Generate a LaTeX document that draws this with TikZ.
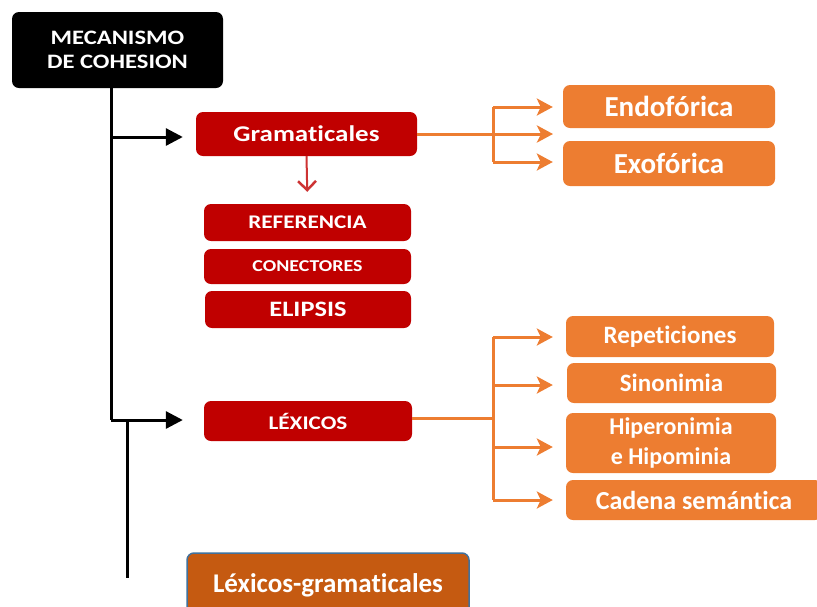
\documentclass[tikz,border=0pt]{standalone}
\usepackage{fontspec}
\setmainfont{Carlito}[Ligatures=NoCommon]
\newfontfamily\widefont{Carlito}[FakeStretch=1.2, Ligatures=NoCommon]
\usetikzlibrary{arrows.meta}
\definecolor{boxred}{RGB}{192,0,0}
\definecolor{boxorange}{RGB}{237,125,49}
\definecolor{boxbrown}{RGB}{197,90,17}
\definecolor{edgeblue}{RGB}{65,113,156}
\tikzset{
	basebox/.style={rounded corners=7pt, text=white, align=center, inner sep=0pt},
	blackbox/.style={basebox, fill=black},
	redbox/.style={basebox, fill=boxred},
	orangebox/.style={basebox, fill=boxorange},
	brownbox/.style={basebox, fill=boxbrown, draw=edgeblue, line width=1.5pt},
	trunk/.style={line width=3pt, black},
	blackarrow/.style={trunk, -{Triangle[length=17pt,width=17pt]}},
	orline/.style={line width=3pt, boxorange},
	orarrow/.style={orline, -{Stealth[length=16pt,width=17pt,inset=4pt]}},
	redarrow/.style={line width=2pt, boxred!80!white, -{Straight Barb[length=9pt,width=18pt,line width=2.5pt]}}
}
\begin{document}
\begin{tikzpicture}[x=1pt, y=-1pt]
		\useasboundingbox (0,0) rectangle (817,606);
		\clip (0,0) rectangle (817,606);

		% main box
		\node[blackbox, minimum width=211pt, minimum height=76pt, font=\widefont\bfseries\fontsize{20.5}{24}\selectfont] (mec) at (117.5,50) {MECANISMO\\DE COHESION};

		% grammatical branch
		\node[redbox, minimum width=221pt, minimum height=44pt, font=\widefont\bfseries\fontsize{22.5}{26}\selectfont] (gram) at (306.5,134) {Gramaticales};
		\node[redbox, minimum width=207pt, minimum height=37pt, font=\widefont\bfseries\fontsize{19.3}{22}\selectfont] (ref) at (307.5,222.5) {REFERENCIA};
		\node[redbox, minimum width=207pt, minimum height=35pt, font=\widefont\bfseries\fontsize{16.6}{19}\selectfont] (con) at (307.5,266.5) {CONECTORES};
		\node[redbox, minimum width=206pt, minimum height=37pt, font=\widefont\bfseries\fontsize{22}{26}\selectfont] (eli) at (308,309.5) {ELIPSIS};

		\node[orangebox, minimum width=212pt, minimum height=43pt, font=\bfseries\fontsize{29}{32}\selectfont] (endo) at (669,106.5) {Endofórica};
		\node[orangebox, minimum width=212pt, minimum height=45pt, font=\bfseries\fontsize{29}{32}\selectfont] (exo) at (669,163.5) {Exofórica};

		% lexical branch
		\node[redbox, minimum width=208pt, minimum height=40pt, font=\widefont\bfseries\fontsize{19.3}{22}\selectfont] (lex) at (308,421) {LÉXICOS};

		\node[orangebox, minimum width=208pt, minimum height=41pt, font=\bfseries\fontsize{25}{28}\selectfont] (rep) at (670,336.5) {Repeticiones};
		\node[orangebox, minimum width=209pt, minimum height=40pt, font=\bfseries\fontsize{25}{28}\selectfont] (sin) at (671.5,383) {Sinonimia};
		\node[orangebox, minimum width=210pt, minimum height=60pt, font=\bfseries\fontsize{24}{30}\selectfont] (hip) at (671,443) {Hiperonimia\\e Hipominia};
		\node[orangebox, minimum width=256pt, minimum height=40pt, font=\bfseries\fontsize{26}{29}\selectfont] (cad) at (694,500) {Cadena semántica};

		\node[brownbox, minimum width=282pt, minimum height=64pt, font=\bfseries\fontsize{27}{30}\selectfont] (lexgram) at (328,585) {Léxicos-gramaticales};

		% black trunk
		\coordinate (top) at (111,88);
		\coordinate (join1) at (111,137);
		\coordinate (join2) at (111,420);
		\coordinate (sub) at (127,420);
		\coordinate (foot) at (127,578);
		\draw[trunk] (top) -- (join2);
		\draw[blackarrow, shorten >=13pt] (join1) -- (join1 -| gram.west);
		\draw[blackarrow, shorten >=21pt] (join2) -- (join2 -| lex.west);
		\draw[trunk] (sub) -- (foot);

		\draw[redarrow, shorten >=12pt] (gram.south) -- (ref.north);

		% orange forks
		\coordinate (gfork) at (493,134);
		\coordinate (gmid) at (553,134);
		\draw[orline] (gram.east) -- (gfork);
		\draw[orline] (gfork |- 0,107) -- (gfork |- 0,162);
		\draw[orarrow, shorten >=10pt] (gfork |- 0,107) -- (gfork |- 0,107 -| endo.west);
		\draw[orarrow] (gfork) -- (gmid);
		\draw[orarrow, shorten >=10pt] (gfork |- 0,162) -- (gfork |- 0,162 -| exo.west);

		\coordinate (lfork) at (493,418);
		\draw[orline] (lex.east |- lfork) -- (lfork);
		\draw[orline] (493,337) -- (493,500);
		\draw[orarrow, shorten >=13pt] (493,337) -- (493,337 -| rep.west);
		\draw[orarrow, shorten >=14pt] (493,385) -- (493,385 -| sin.west);
		\draw[orarrow, shorten >=13pt] (493,447) -- (493,447 -| hip.west);
		\draw[orarrow, shorten >=13pt] (493,500) -- (493,500 -| cad.west);

	\end{tikzpicture}
\end{document}
